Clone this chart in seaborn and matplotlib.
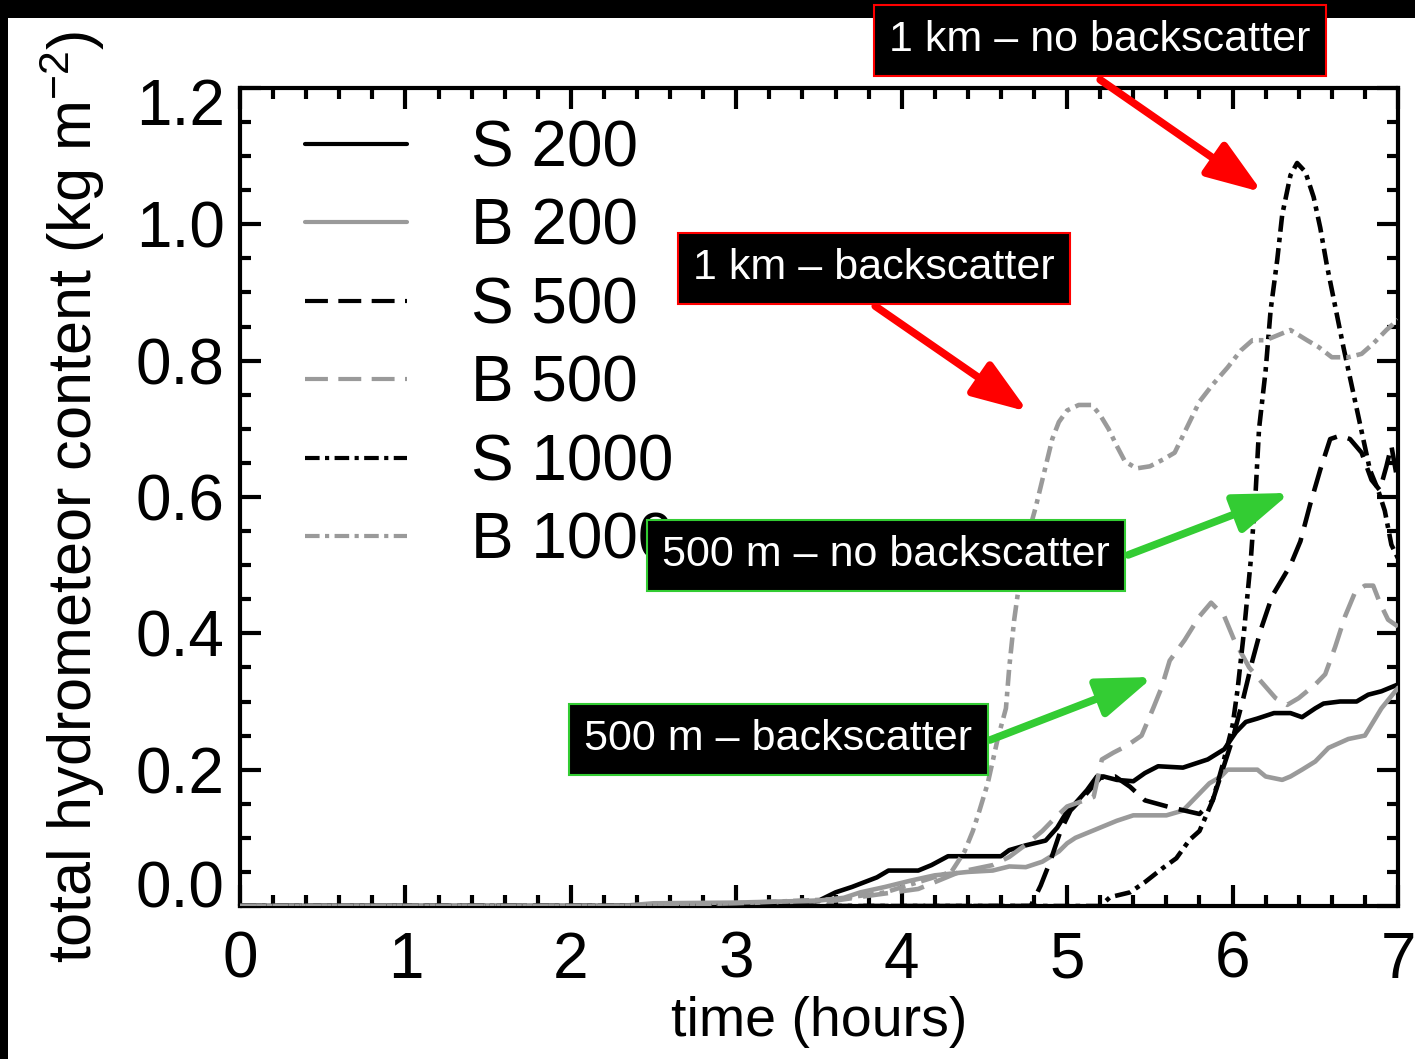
import numpy as np
import pandas as pd
import matplotlib
matplotlib.use('Agg')
import matplotlib.pyplot as plt
import seaborn as sns
from matplotlib.patches import Rectangle
from matplotlib.ticker import MultipleLocator, FormatStrFormatter
from matplotlib.transforms import ScaledTranslation

# ---------------- data ----------------
series_names = ['S 200', 'B 200', 'S 500', 'B 500', 'S 1000', 'B 1000']

t_s200 = [0, 3.3, 3.5, 3.6, 3.7, 3.85, 3.92, 4.1, 4.18, 4.28, 4.45, 4.6, 4.65, 4.75, 4.87, 4.94,
          4.99, 5.04, 5.12, 5.18, 5.22, 5.3, 5.4, 5.47, 5.55, 5.7, 5.85, 5.95, 6.02, 6.08, 6.15,
          6.25, 6.35, 6.42, 6.5, 6.55, 6.65, 6.75, 6.82, 6.9, 7.0]
v_s200 = [0, 0, 0.008, 0.02, 0.028, 0.042, 0.052, 0.052, 0.06, 0.073, 0.073, 0.073, 0.082, 0.089,
          0.096, 0.115, 0.135, 0.148, 0.17, 0.19, 0.19, 0.185, 0.183, 0.195, 0.205, 0.203, 0.215,
          0.23, 0.255, 0.27, 0.275, 0.283, 0.283, 0.277, 0.29, 0.297, 0.30, 0.30, 0.31, 0.315, 0.325]

t_b200 = [0, 2.3, 2.5, 3.0, 3.5, 3.65, 3.75, 3.9, 4.05, 4.2, 4.4, 4.55, 4.65, 4.75, 4.85, 4.95,
          5.0, 5.05, 5.15, 5.3, 5.4, 5.6, 5.7, 5.78, 5.86, 5.93, 5.97, 6.15, 6.2, 6.3, 6.35, 6.42,
          6.5, 6.58, 6.7, 6.8, 6.85, 6.9, 6.95, 7.0]
v_b200 = [0, 0, 0.004, 0.005, 0.008, 0.012, 0.02, 0.028, 0.037, 0.045, 0.05, 0.052, 0.058, 0.057,
          0.065, 0.08, 0.092, 0.1, 0.11, 0.125, 0.133, 0.133, 0.14, 0.16, 0.18, 0.19, 0.2, 0.2,
          0.19, 0.185, 0.19, 0.2, 0.212, 0.232, 0.245, 0.25, 0.27, 0.29, 0.305, 0.32]

t_s500 = [0, 4.78, 4.84, 4.9, 4.96, 5.02, 5.11, 5.2, 5.29, 5.38, 5.47, 5.62, 5.8, 5.88, 5.94, 6.0,
          6.06, 6.12, 6.17, 6.24, 6.35, 6.41, 6.47, 6.53, 6.59, 6.65, 6.71, 6.78, 6.84, 6.89, 6.93,
          6.96, 7.0]
v_s500 = [0, 0, 0.03, 0.067, 0.11, 0.14, 0.163, 0.188, 0.19, 0.175, 0.155, 0.145, 0.135, 0.155,
          0.2, 0.245, 0.3, 0.36, 0.405, 0.455, 0.5, 0.535, 0.59, 0.64, 0.685, 0.69, 0.685, 0.665,
          0.625, 0.61, 0.645, 0.675, 0.62]

t_b500 = [0, 2.3, 3.0, 3.6, 3.8, 4.1, 4.2, 4.35, 4.45, 4.55, 4.65, 4.75, 4.85, 4.93, 5.0, 5.07,
          5.16, 5.21, 5.28, 5.36, 5.45, 5.52, 5.57, 5.62, 5.71, 5.8, 5.87, 5.95, 6.01, 6.1, 6.17,
          6.26, 6.33, 6.4, 6.5, 6.56, 6.62, 6.68, 6.74, 6.8, 6.85, 6.89, 6.94, 7.0]
v_b500 = [0, 0, 0.004, 0.008, 0.015, 0.025, 0.035, 0.05, 0.055, 0.06, 0.072, 0.09, 0.11, 0.13,
          0.146, 0.152, 0.16, 0.215, 0.225, 0.235, 0.25, 0.29, 0.32, 0.36, 0.39, 0.425, 0.445,
          0.425, 0.39, 0.35, 0.33, 0.305, 0.295, 0.305, 0.325, 0.34, 0.38, 0.425, 0.46, 0.47,
          0.47, 0.445, 0.42, 0.41]

t_s1000 = [0, 5.2, 5.26, 5.38, 5.47, 5.58, 5.66, 5.74, 5.8, 5.88, 5.94, 6.0, 6.03, 6.07, 6.11,
           6.14, 6.16, 6.2, 6.23, 6.27, 6.3, 6.35, 6.39, 6.44, 6.49, 6.53, 6.57, 6.62, 6.67, 6.71,
           6.75, 6.79, 6.83, 6.88, 6.92, 6.96, 7.0]
v_s1000 = [0, 0, 0.013, 0.02, 0.035, 0.056, 0.07, 0.097, 0.11, 0.155, 0.207, 0.265, 0.317, 0.405,
           0.507, 0.61, 0.70, 0.786, 0.874, 0.948, 1.014, 1.072, 1.09, 1.077, 1.04, 0.995, 0.94,
           0.88, 0.82, 0.775, 0.73, 0.685, 0.64, 0.61, 0.58, 0.53, 0.51]

t_b1000 = [0, 2.3, 3.0, 3.6, 3.9, 4.1, 4.3, 4.38, 4.43, 4.47, 4.52, 4.58, 4.63, 4.65, 4.68, 4.72,
           4.77, 4.81, 4.84, 4.88, 4.91, 4.95, 5.0, 5.07, 5.15, 5.2, 5.25, 5.3, 5.35, 5.42, 5.5,
           5.58, 5.65, 5.72, 5.8, 5.88, 5.97, 6.05, 6.12, 6.2, 6.3, 6.35, 6.45, 6.52, 6.6, 6.7,
           6.78, 6.85, 6.93, 7.0]
v_b1000 = [0, 0, 0.004, 0.01, 0.02, 0.035, 0.05, 0.08, 0.11, 0.14, 0.18, 0.245, 0.29, 0.35, 0.42,
           0.49, 0.55, 0.585, 0.615, 0.655, 0.685, 0.71, 0.727, 0.735, 0.735, 0.72, 0.7, 0.675,
           0.652, 0.642, 0.645, 0.655, 0.665, 0.7, 0.74, 0.765, 0.79, 0.815, 0.83, 0.83, 0.84,
           0.845, 0.83, 0.82, 0.805, 0.805, 0.81, 0.825, 0.845, 0.86]

x_ticks = [0, 1, 2, 3, 4, 5, 6, 7]
y_ticks = [0.0, 0.2, 0.4, 0.6, 0.8, 1.0, 1.2]

annotations = ['1 km \u2013 no backscatter', '1 km \u2013 backscatter',
               '500 m \u2013 no backscatter', '500 m \u2013 backscatter']

# ---------------- build long table ----------------
frames = []
for name, t, v in zip(series_names,
                      [t_s200, t_b200, t_s500, t_b500, t_s1000, t_b1000],
                      [v_s200, v_b200, v_s500, v_b500, v_s1000, v_b1000]):
    frames.append(pd.DataFrame({'series': name, 'time': t, 'content': v}))
df = pd.concat(frames, ignore_index=True)

GRAY = '#9a9a9a'
GREEN = '#33cc33'
palette = {'S 200': 'black', 'B 200': GRAY, 'S 500': 'black', 'B 500': GRAY,
           'S 1000': 'black', 'B 1000': GRAY}
dashes = {'S 200': '', 'B 200': '', 'S 500': (5.5, 2.5), 'B 500': (5.5, 2.5),
          'S 1000': (3.5, 1.3, 1.0, 1.3), 'B 1000': (3.5, 1.3, 1.0, 1.3)}

# ---------------- style ----------------
sns.set_theme(style='ticks')
plt.rcParams['font.family'] = ['Liberation Sans', 'DejaVu Sans']
plt.rcParams['mathtext.fontset'] = 'custom'
plt.rcParams['mathtext.rm'] = 'Liberation Sans'
plt.rcParams['mathtext.it'] = 'Liberation Sans'
plt.rcParams['mathtext.default'] = 'regular'
for key in ['text.color', 'axes.labelcolor', 'xtick.color', 'ytick.color',
            'xtick.labelcolor', 'ytick.labelcolor', 'axes.edgecolor']:
    plt.rcParams[key] = 'black'

W, H = 1415, 1059
fig = plt.figure(figsize=(W / 100, H / 100), dpi=100, facecolor='white')
ax = fig.add_axes([240 / W, 1 - 906 / H, (1398 - 240) / W, (906 - 88) / H])

# black frame bands of the original slide
fig.patches.append(Rectangle((0, 1 - 18 / H), 1, 18 / H, transform=fig.transFigure,
                             facecolor='black', edgecolor='none', zorder=-5))
fig.patches.append(Rectangle((0, 0), 8 / W, 1, transform=fig.transFigure,
                             facecolor='black', edgecolor='none', zorder=-5))

sns.lineplot(data=df, x='time', y='content', hue='series', style='series',
             hue_order=series_names, style_order=series_names,
             palette=palette, dashes=dashes, estimator=None, sort=False,
             linewidth=3.3, legend=False, ax=ax, zorder=3)

ax.set_xlim(0, 7)
ax.set_ylim(0, 1.2)
ax.set_xticks(x_ticks)
ax.set_yticks(y_ticks)
ax.xaxis.set_minor_locator(MultipleLocator(0.2))
ax.yaxis.set_minor_locator(MultipleLocator(0.05))
ax.yaxis.set_major_formatter(FormatStrFormatter('%.1f'))
ax.tick_params(which='both', direction='in', top=True, right=True, width=3, color='black',
               labelsize=46, labelcolor='black')
ax.tick_params(which='major', length=15)
ax.tick_params(which='minor', length=8)
ax.tick_params(axis='x', which='major', pad=18)
ax.tick_params(axis='y', which='major', pad=11)
for s in ax.spines.values():
    s.set_linewidth(3)
    s.set_color('black')
ax.set_facecolor('white')

ax.set_xlabel('time (hours)', fontsize=40, color='black')
ax.xaxis.label.set_verticalalignment('top')
ax.xaxis.set_label_coords(0.5, (906 - 996) / 818)
ax.set_ylabel('total hydrometeor content (kg m$^{-2}$)', fontsize=44, color='black')
ax.yaxis.label.set_verticalalignment('center')
ax.yaxis.set_label_coords((72 - 240) / 1158, 0.5)

# legend
handles = ax.get_lines()[:6]
leg = ax.legend(handles, series_names, loc='upper left', bbox_to_anchor=(0.056, 0.962),
                frameon=False, fontsize=46, handlelength=1.6, handletextpad=1.0,
                labelspacing=0.29, borderpad=0, borderaxespad=0)
for lh in leg.get_lines():
    lh.set_linewidth(3.0)
for txt in leg.get_texts():
    txt.set_color('black')

# arrows (data coords)
arrow_specs = [
    ((5.2, 1.212), (6.18, 1.047), 'red'),
    ((3.84, 0.88), (4.764, 0.725), 'red'),
    ((5.369, 0.515), (6.348, 0.606), GREEN),
    ((4.534, 0.2435), (5.52, 0.336), GREEN),
]
for tail, head, col in arrow_specs:
    ax.annotate('', xy=head, xytext=tail, xycoords='data', textcoords='data',
                arrowprops=dict(arrowstyle='-|>,head_length=2.8,head_width=1.0', lw=5.5,
                                color=col, shrinkA=0, shrinkB=0),
                annotation_clip=False, zorder=6)

# label boxes (figure pixels)
box_specs = [
    (1100, 40, annotations[0], 'red'),
    (874, 268, annotations[1], 'red'),
    (886, 555, annotations[2], GREEN),
    (778, 739, annotations[3], GREEN),
]
for bx, by, txt, ec in box_specs:
    fig.text(bx / W, 1 - by / H, txt, ha='center', va='center', color='white', fontsize=31,
             bbox=dict(boxstyle='square,pad=0.36', facecolor='black', edgecolor=ec, linewidth=1.5),
             zorder=10)

# IDL-style inner placement of the end tick labels
fig.canvas.draw()
yt = ax.yaxis.get_major_ticks()
yt[0].label1.set_transform(yt[0].label1.get_transform() +
                           ScaledTranslation(0, 0.22, fig.dpi_scale_trans))
yt[-1].label1.set_transform(yt[-1].label1.get_transform() +
                            ScaledTranslation(0, -0.14, fig.dpi_scale_trans))

fig.savefig('out.png', dpi=100, facecolor='white')
